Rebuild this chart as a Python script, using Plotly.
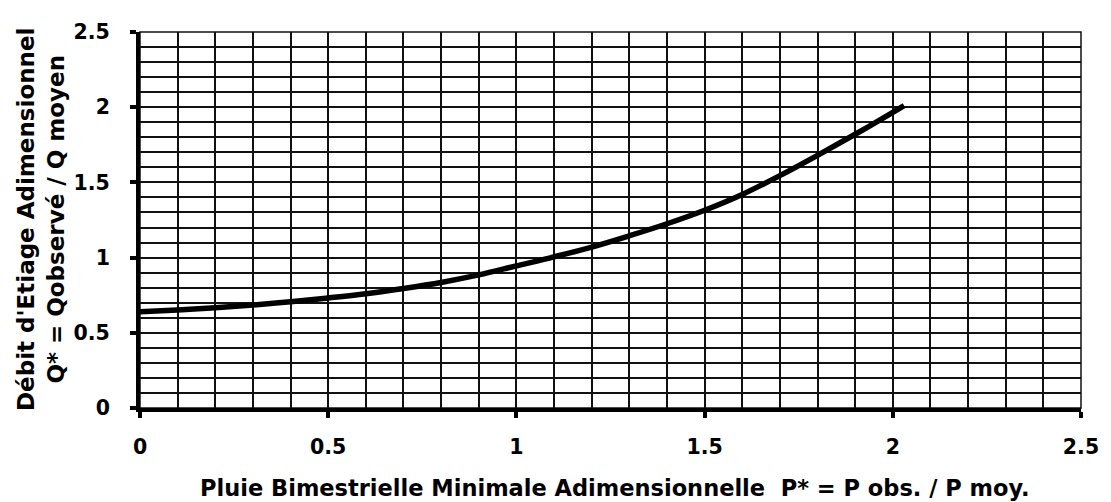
import plotly.graph_objects as go

p_star = [0, 0.1, 0.2, 0.3, 0.4, 0.5, 0.6, 0.7, 0.8, 0.9, 1.0, 1.1, 1.2, 1.3, 1.4, 1.5, 1.6, 1.7, 1.8, 1.9, 2.0, 2.03]
q_star = [0.64, 0.652, 0.667, 0.685, 0.707, 0.732, 0.76, 0.795, 0.835, 0.885, 0.945, 1.005, 1.07, 1.145, 1.225, 1.315, 1.42, 1.545, 1.68, 1.82, 1.965, 2.01]

tick_vals = [0, 0.5, 1, 1.5, 2, 2.5]
tick_text = ["0", "0.5", "1", "1.5", "2", "2.5"]

x_title = "Pluie Bimestrielle Minimale Adimensionnelle \u00a0P* = P obs. / P moy."
y_title = "Débit d'Etiage Adimensionnel<br>Q* = Qobservé / Q moyen"

FONT = "DejaVu Sans, Liberation Sans, Arial, sans-serif"

fig = go.Figure()
fig.add_trace(go.Scatter(x=p_star, y=q_star, mode="lines",
                         line=dict(color="black", width=5.5, shape="spline", smoothing=1.0),
                         showlegend=False, hoverinfo="skip"))

axis_common = dict(
    range=[0, 2.5], tickmode="array", tickvals=tick_vals, ticktext=tick_text,
    showgrid=True, gridcolor="#111111", gridwidth=1.5,
    minor=dict(dtick=0.1, showgrid=True, gridcolor="#111111", gridwidth=1.5, ticks=""),
    showline=True, linecolor="black", linewidth=4,
    ticks="outside", ticklen=6, tickwidth=4, tickcolor="black",
    zeroline=False, fixedrange=True,
    tickfont=dict(family=FONT, size=20.5, color="black", weight="bold"),
)

fig.update_xaxes(**axis_common, ticklabelstandoff=11)
fig.update_yaxes(**axis_common, ticklabelstandoff=16)

fig.add_shape(type="rect", xref="paper", yref="paper", x0=0, y0=0, x1=1, y1=1,
              line=dict(color="#111111", width=1.5), layer="below")

fig.add_annotation(text=x_title, xref="paper", yref="paper", x=0.5, y=0,
                   xshift=4, yshift=-80, xanchor="center", yanchor="middle", showarrow=False,
                   font=dict(family=FONT, size=22.5, color="black", weight="bold"))
fig.add_annotation(text=y_title, xref="paper", yref="paper", x=0, y=0.5,
                   xshift=-99, xanchor="center", yanchor="middle", showarrow=False,
                   textangle=-90,
                   font=dict(family=FONT, size=23, color="black", weight="bold"))

fig.update_layout(
    width=1103, height=494,
    margin=dict(l=132, r=21, t=16, b=94),
    paper_bgcolor="white", plot_bgcolor="white",
)

fig.write_html("out.html")
